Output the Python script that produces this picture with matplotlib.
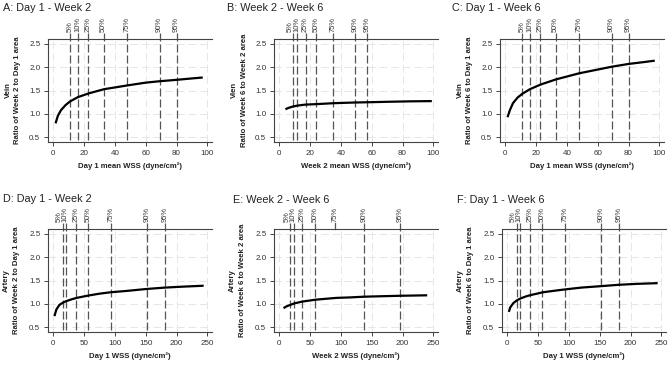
import matplotlib
matplotlib.use("Agg")
import matplotlib.pyplot as plt
from matplotlib.transforms import offset_copy

plt.rcParams['font.family'] = ['Liberation Sans', 'DejaVu Sans']

# ---------------- data ----------------
titles = ["A: Day 1 - Week 2", "B: Week 2 - Week 6", "C: Day 1 - Week 6",
          "D: Day 1 - Week 2", "E: Week 2 - Week 6", "F: Day 1 - Week 6"]
vessel_labels = ["Vein", "Vien", "Vein", "Artery", "Artery", "Artery"]
ratio_labels = ["Ratio of Week 2 to Day 1 area", "Ratio of Week 6 to Week 2 area",
                "Ratio of Week 6 to Day 1 area", "Ratio of Week 2 to Day 1 area",
                "Ratio of Week 6 to Week 2 area", "Ratio of Week 6 to Day 1 area"]
x_labels = ["Day 1 mean WSS (dyne/cm²)", "Week 2 mean WSS (dyne/cm²)",
            "Day 1 mean WSS (dyne/cm²)", "Day 1 WSS (dyne/cm²)",
            "Week 2 WSS (dyne/cm²)", "Day 1 WSS (dyne/cm²)"]
pct_labels = ["5%", "10%", "25%", "50%", "75%", "90%", "95%"]

x_ticks_vein = [0, 20, 40, 60, 80, 100]
x_ticks_artery = [0, 50, 100, 150, 200, 250]
y_ticks = [0.5, 1.0, 1.5, 2.0, 2.5]

# percentiles of WSS (x positions of dashed lines)
pct_A = [10.8, 16.0, 22.6, 32.7, 47.8, 69.0, 80.0]
pct_B = [8.8, 11.8, 17.1, 24.1, 35.0, 49.0, 57.0]
pct_C = [10.8, 16.0, 22.6, 32.7, 47.8, 69.0, 80.0]
pct_D = [16.0, 21.0, 37.5, 57.0, 93.0, 151.5, 181.0]
pct_E = [18.0, 24.3, 36.7, 58.5, 91.0, 137.0, 196.0]
pct_F = [16.0, 21.0, 37.5, 57.0, 93.0, 151.5, 181.0]
pct_full_E = [True, True, True, True, False, True, True]

# fitted curves
x_A = [1.5, 3, 5, 8, 11, 16, 23, 33, 48, 60, 69, 80, 90, 97]
y_A = [0.80, 0.96, 1.08, 1.19, 1.27, 1.36, 1.44, 1.53, 1.61, 1.67, 1.70, 1.73, 1.76, 1.78]
x_B = [4, 6, 9, 12, 17, 24, 35, 49, 57, 70, 85, 99]
y_B = [1.10, 1.13, 1.16, 1.18, 1.20, 1.21, 1.23, 1.245, 1.25, 1.26, 1.27, 1.275]
x_C = [1.5, 3, 5, 8, 11, 16, 23, 33, 48, 60, 69, 80, 90, 97]
y_C = [0.93, 1.08, 1.23, 1.35, 1.43, 1.53, 1.63, 1.74, 1.87, 1.95, 2.01, 2.07, 2.11, 2.14]
x_D = [2, 5, 10, 16, 21, 30, 38, 57, 75, 93, 120, 151, 181, 210, 244]
y_D = [0.74, 0.88, 0.98, 1.03, 1.06, 1.10, 1.13, 1.18, 1.22, 1.25, 1.28, 1.32, 1.35, 1.37, 1.39]
x_E = [7, 12, 18, 24, 37, 58, 75, 93, 115, 137, 165, 196, 240]
y_E = [0.91, 0.95, 0.98, 1.01, 1.05, 1.09, 1.11, 1.13, 1.14, 1.155, 1.165, 1.175, 1.185]
x_F = [2.5, 5, 10, 16, 22, 30, 38, 58, 75, 93, 120, 151, 181, 210, 244]
y_F = [0.83, 0.93, 1.02, 1.08, 1.12, 1.16, 1.19, 1.25, 1.28, 1.31, 1.35, 1.38, 1.41, 1.43, 1.445]

curves = [(x_A, y_A), (x_B, y_B), (x_C, y_C), (x_D, y_D), (x_E, y_E), (x_F, y_F)]
pcts = [pct_A, pct_B, pct_C, pct_D, pct_E, pct_F]
full_flags = [None, None, None, None, pct_full_E, None]

# label nudges (pixels) for crowded percentile labels
label_nudge = [[0] * 7,
               [-3, 0, 0, 0, 0, 0, 0],
               [0] * 7,
               [-4, -1.5, 0, 0, 0, 0, 0],
               [-3.5, -1.5, 0, 0, 0, 0, 0],
               [-4, -1.5, 0, 0, 0, 0, 0]]

# ---------------- layout ----------------
W, H = 669, 365
fig = plt.figure(figsize=(W / 100, H / 100), dpi=100)

ax_left_px = [48, 274, 500, 48, 274, 502]
ax_top_px = [38.7, 38.7, 38.7, 228.7, 228.7, 228.7]
ax_w_px, ax_h_px = 164, 103.3
title_x_px = [3, 227, 452, 3, 233, 457]
title_top_px = [3, 3, 3, 194, 195, 195]

grid_col = "#e6e6e6"
pct_col = "#555555"
axis_col = "#444444"

for i in range(6):
    l, t = ax_left_px[i], ax_top_px[i]
    ax = fig.add_axes([l / W, 1 - (t + ax_h_px) / H, ax_w_px / W, ax_h_px / H])
    vein = i < 3
    xt = x_ticks_vein if vein else x_ticks_artery
    rng = xt[-1]
    ax.set_xlim(-0.034 * rng, 1.03 * rng)
    ax.set_ylim(0.40, 2.61)
    ax.set_xticks(xt)
    ax.set_yticks(y_ticks)
    ax.set_yticklabels([f"{v:.1f}" for v in y_ticks])

    # faint grid
    for xv in xt:
        ax.axvline(xv, color=grid_col, lw=0.7, ls=(0, (8, 4)), zorder=0)
    for yv in y_ticks:
        ax.axhline(yv, color=grid_col, lw=0.7, ls=(0, (8, 4)), zorder=0)

    # percentile lines
    flags = full_flags[i]
    for k, (pv, lab) in enumerate(zip(pcts[i], pct_labels)):
        if flags is None or flags[k]:
            ax.plot([pv, pv], [0.45, 2.73], color=pct_col, lw=0.9,
                    ls=(0, (6.4, 2.4)), clip_on=False, zorder=1)
        else:
            ax.plot([pv, pv], [2.61, 2.73], color=pct_col, lw=0.9,
                    clip_on=False, zorder=1)
        tr = offset_copy(ax.transData, fig=fig, x=label_nudge[i][k], y=0,
                         units='dots')
        ax.text(pv, 2.76, lab, rotation=90, ha='center', va='bottom',
                fontsize=5.4, color="#333333", transform=tr)

    xs, ys = curves[i]
    ax.plot(xs, ys, color='black', lw=1.6, zorder=3, solid_capstyle='butt')

    for s in ['left', 'top', 'bottom']:
        ax.spines[s].set_color(axis_col)
        ax.spines[s].set_linewidth(0.8)
    ax.spines['right'].set_visible(False)
    ax.tick_params(axis='both', length=3, width=0.7, color=axis_col,
                   labelsize=5.8, labelcolor="#333333", pad=2.5)

    ax.set_xlabel(x_labels[i], fontsize=5.6, fontweight='bold', color="#222222",
                  labelpad=4)

    # y labels (two lines)
    cy = 1 - (t + ax_h_px / 2) / H
    off1, off2 = (30, 40) if vein else (31.5, 41.5)
    fig.text((l - off1) / W, cy, ratio_labels[i], rotation=90, ha='center',
             va='center', fontsize=5.6, fontweight='bold', color="#222222")
    fig.text((l - off2) / W, cy, vessel_labels[i], rotation=90, ha='center',
             va='center', fontsize=5.6, fontweight='bold', color="#222222")

    fig.text(title_x_px[i] / W, 1 - title_top_px[i] / H, titles[i],
             ha='left', va='top', fontsize=7.8, color="#222222")

fig.savefig("out.png", dpi=100)
